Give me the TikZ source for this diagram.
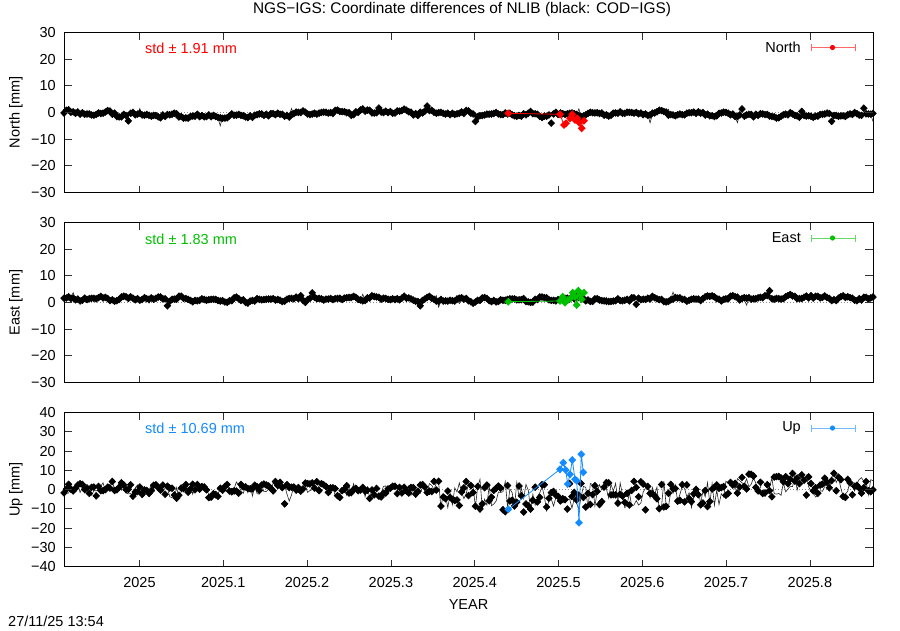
\documentclass[tikz,border=0pt]{standalone}
\usepackage{fontspec}
\setmainfont{Liberation Sans}
\usetikzlibrary{plotmarks}
\definecolor{gpred}{RGB}{255,0,0}
\definecolor{gpgreen}{RGB}{0,192,0}
\definecolor{gpblue}{RGB}{20,140,255}
\begin{document}
\begin{tikzpicture}[x=1pt,y=-1pt,
  font=\fontsize{14.5}{16}\selectfont,
  frame/.style={line width=1pt,black},
  tickmark/.style={line width=0.7pt,black!80},
  ylab/.style={anchor=east,inner sep=0pt},
  xlab/.style={anchor=center,inner sep=0pt},
  zeroline/.style={line width=0.6pt,black!45,dash pattern=on 1pt off 2pt},
  blackdata/.style={draw=black!85,line width=0.6pt,mark=diamond*,mark size=3.4pt,
     mark options={fill=black,draw=black,xscale=1.3,solid}},
  coldata/.style={draw=#1,line width=0.8pt,mark=diamond*,mark size=3.4pt,
     mark options={fill=#1,draw=#1,xscale=1.3,solid}},
  stdlab/.style={anchor=west,inner sep=0pt,text=#1},
  leglab/.style={anchor=east,inner sep=0pt},
  legbar/.style={draw=#1!60,line width=0.9pt}
]
\useasboundingbox (0,0) rectangle (900,630);
\fill[white] (0,0) rectangle (900,630);
\pgfmathsetseed{4711}

% ---------------- title
\node[inner sep=0pt,font=\fontsize{15.4}{17}\selectfont] (title) at (462,10) {NGS−IGS: Coordinate differences of NLIB (black: COD−IGS)};

% ---------------- zero lines
\draw[zeroline] (64,112.5) -- (873,112.5);
\draw[zeroline] (64,302.5) -- (873,302.5);
\draw[zeroline] (64,489.5) -- (873,489.5);

% ---------------- black data
\draw[blackdata] plot[domain=0:809,samples=353]
  ({\x+64},{112.5-2.6667*(-0.5+0.5*cos(1.2*\x)-0.4*sin(0.7*\x)+0.45*sin(11*\x)+0.35*sin(17*\x+50)+0.5*rand-3*(rnd>0.985)+2*(rnd>0.99))});
\draw[blackdata] plot[domain=0:809,samples=353]
  ({\x+64},{302.5-2.6667*(1.2+0.4*sin(1.5*\x)+0.7*(\x>626)*(\x<756)-0.9*(\x>526)*(\x<566)+0.45*sin(13*\x)+0.35*sin(19*\x+30)+0.5*rand-2*(rnd>0.985)+2*(rnd>0.99))});
\draw[blackdata] plot[domain=0:809,samples=353]
  ({\x+64},{489.5-1.925*(0.8*sin(2.1*\x)+1.2*sin(9*\x)-3.5*(\x>376)*(\x<656)+1.8*(\x>656)+(3+5*(\x>376)*(\x<656)+2.5*(\x>656))*rand-7*(rnd>0.985))});

% ---------------- coloured data
\draw[coldata=gpred] plot coordinates {(508.3,113.3) (560,114.3) (564,125) (566,123.3) (570,118.3) (572.3,114.3) (575,120) (577.3,118.3) (579.3,122.7) (581.7,128.3) (584,120.7)};
\draw[coldata=gpgreen] plot coordinates {(508.3,301.7) (560,301) (562.7,296.7) (565,302.7) (567.7,300) (570.7,298.3) (572.7,292.7) (575,296.7) (576.7,305) (578.3,290.7) (580,295) (581.7,299.3) (584,292.7)};
\draw[coldata=gpblue] plot coordinates {(508.3,509.3) (560,469.3) (563.3,462.7) (565.7,470) (567.7,484) (570,474.3) (572.3,460) (575,479.3) (576.7,480.7) (579,522.7) (581.3,454.3) (583.3,472.3)};

% ---------------- frames and ticks
\foreach \t/\b in {32.5/192.5,222.5/382.5,412.5/566.5}{
  \foreach \k in {0,...,8}{
    \draw[tickmark] ({139.5+83.8*\k},\b) -- ++(0,-7);
    \draw[tickmark] ({139.5+83.8*\k},\t) -- ++(0,7);
  }
}
\foreach \v/\lab in {30/30,20/20,10/10,0/0,-10/−10,-20/−20,-30/−30}{
  \draw[tickmark] (64,{112.5-2.6667*\v}) -- ++(8,0);
  \draw[tickmark] (873,{112.5-2.6667*\v}) -- ++(-8,0);
  \node[ylab] (ya\v) at (56,{112.5-2.6667*\v}) {\lab};
  \draw[tickmark] (64,{302.5-2.6667*\v}) -- ++(8,0);
  \draw[tickmark] (873,{302.5-2.6667*\v}) -- ++(-8,0);
  \node[ylab] (yb\v) at (56,{302.5-2.6667*\v}) {\lab};
}
\foreach \v/\lab in {40/40,30/30,20/20,10/10,0/0,-10/−10,-20/−20,-30/−30,-40/−40}{
  \draw[tickmark] (64,{489.5-1.925*\v}) -- ++(8,0);
  \draw[tickmark] (873,{489.5-1.925*\v}) -- ++(-8,0);
  \node[ylab] (yc\v) at (56,{489.5-1.925*\v}) {\lab};
}
\draw[frame] (64,32.5) rectangle (873,192.5);
\draw[frame] (64,222.5) rectangle (873,382.5);
\draw[frame] (64,412.5) rectangle (873,566.5);

% ---------------- x tick labels
\foreach \k/\lab in {0/2025,1/2025.1,2/2025.2,3/2025.3,4/2025.4,5/2025.5,6/2025.6,7/2025.7,8/2025.8}{
  \node[xlab] (xl\k) at ({139.5+83.8*\k},582) {\lab};
}
\node[xlab] (xaxis) at (468.5,605) {YEAR};
\node[anchor=west,inner sep=0pt] (stamp) at (8,621.5) {27/11/25 13:54};

% ---------------- y axis labels
\node[rotate=90,inner sep=0pt] (ylabA) at (16,112.5) {North [mm]};
\node[rotate=90,inner sep=0pt] (ylabB) at (16,302.5) {East [mm]};
\node[rotate=90,inner sep=0pt] (ylabC) at (16,489.5) {Up [mm]};

% ---------------- std labels
\node[stdlab=gpred] (stdA) at (145,48) {std ± 1.91 mm};
\node[stdlab=gpgreen] (stdB) at (145,239) {std ± 1.83 mm};
\node[stdlab=gpblue] (stdC) at (145,428.5) {std ± 10.69 mm};

% ---------------- legends
\foreach \yy/\lab/\col/\nm in {47.5/North/gpred/A,238/East/gpgreen/B,428/Up/gpblue/C}{
  \node[leglab] (leg\nm) at (801,\yy) {\lab};
  \coordinate (l\nm) at (811,\yy);
  \coordinate (r\nm) at (855,\yy);
  \draw[legbar=\col] (l\nm) -- (r\nm);
  \draw[legbar=\col] ([yshift=-3.5pt]l\nm) -- ([yshift=3.5pt]l\nm);
  \draw[legbar=\col] ([yshift=-3.5pt]r\nm) -- ([yshift=3.5pt]r\nm);
  \fill[\col] (832.5,\yy) circle (2.6pt);
}
\end{tikzpicture}
\end{document}
